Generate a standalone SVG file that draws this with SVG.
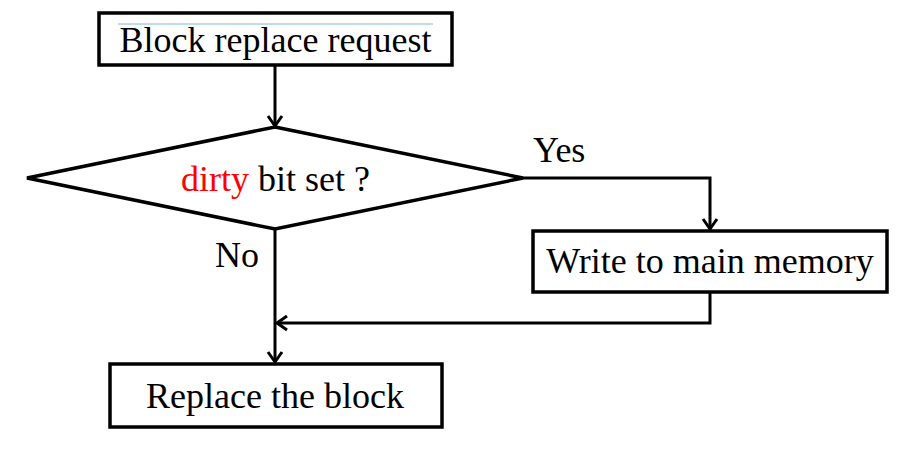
<svg xmlns="http://www.w3.org/2000/svg" width="909" height="454" viewBox="0 0 909 454">
<style>
.box{fill:#fff;stroke:#000;stroke-width:3.5}
.t{font-family:"Liberation Serif","Times New Roman",serif;font-size:36px;fill:#000}
.c{text-anchor:middle}
.ln{fill:none;stroke:#000;stroke-width:3}
</style>
<defs>
<marker id="arr" markerUnits="userSpaceOnUse" markerWidth="20" markerHeight="20" refX="0" refY="0" viewBox="-12 -10 14 20" orient="auto" overflow="visible">
<path d="M-10,-7 L0,0 L-10,7" fill="none" stroke="#000" stroke-width="3" stroke-linejoin="miter"/>
</marker>
</defs>
<rect width="909" height="454" fill="#fff"/>
<g id="connectors">
<line class="ln" x1="275" y1="65" x2="275" y2="126" marker-end="url(#arr)"/>
<polyline class="ln" points="523,178 710,178 710,229" marker-end="url(#arr)"/>
<polyline class="ln" points="710,292 710,323 277,323" marker-end="url(#arr)"/>
<line class="ln" x1="275" y1="229" x2="275" y2="362" marker-end="url(#arr)"/>
</g>
<g id="start">
<rect class="box" x="99" y="13" width="353" height="52"/>
<line x1="118" y1="24" x2="433" y2="24" stroke="#7fb6dc" stroke-width="1"/>
<text class="t c" x="275.5" y="52">Block replace request</text>
</g>
<g id="decision">
<polygon class="box" points="275,127 523,178 275,229 27,178"/>
<text class="t" x="181" y="191"><tspan fill="#ff0000">dirty</tspan> bit set ?</text>
</g>
<g id="write">
<rect class="box" x="533" y="231" width="354" height="61"/>
<text class="t c" x="710" y="273">Write to main memory</text>
</g>
<g id="replace">
<rect class="box" x="110" y="364" width="332" height="63"/>
<text class="t c" x="275" y="408">Replace the block</text>
</g>
<g id="labels">
<text class="t" x="533" y="162">Yes</text>
<text class="t" x="215" y="267">No</text>
</g>
</svg>
